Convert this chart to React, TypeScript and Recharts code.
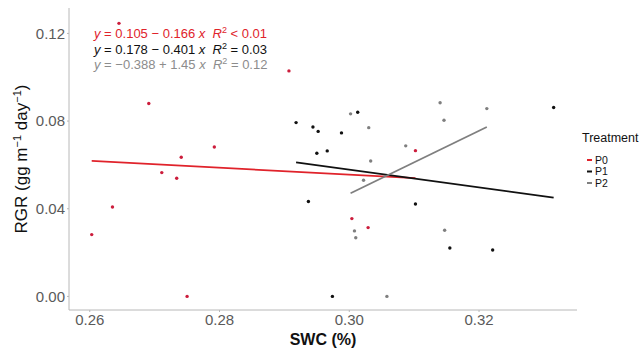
import React from 'react';
import { ComposedChart, XAxis, YAxis, Scatter, Line } from 'recharts';

// SWC (x) and RGR (y) per treatment
const p0SWC = [0.2645, 0.2907, 0.2691, 0.2792, 0.2741, 0.2711, 0.2734, 0.2635, 0.2603, 0.275, 0.3102, 0.3004, 0.3029];
const p0RGR = [0.1246, 0.1029, 0.088, 0.0682, 0.0635, 0.0565, 0.0539, 0.0408, 0.0282, 0.0, 0.0665, 0.0355, 0.0314];

const p1SWC = [0.2918, 0.2937, 0.3013, 0.3315, 0.2944, 0.2952, 0.2988, 0.295, 0.2966, 0.3102, 0.3155, 0.3221, 0.2974];
const p1RGR = [0.0793, 0.0433, 0.084, 0.0862, 0.0773, 0.0753, 0.0746, 0.0653, 0.0664, 0.0422, 0.0221, 0.0212, 0.0];

const p2SWC = [0.3002, 0.314, 0.3212, 0.3146, 0.303, 0.3087, 0.3033, 0.3022, 0.3008, 0.301, 0.3147, 0.3058];
const p2RGR = [0.0833, 0.0884, 0.0857, 0.0804, 0.077, 0.0687, 0.0618, 0.053, 0.0299, 0.0268, 0.0302, 0.0];

// fitted line ends
const p0FitX = [0.2603, 0.3102];
const p0FitY = [0.0618, 0.054];
const p1FitX = [0.2918, 0.3315];
const p1FitY = [0.0612, 0.0451];
const p2FitX = [0.3002, 0.3212];
const p2FitY = [0.0471, 0.0773];

const xTicks = [0.26, 0.28, 0.3, 0.32];
const yTicks = [0, 0.04, 0.08, 0.12];
const treatments = ['P0', 'P1', 'P2'];

const RED = '#e0232b';
const RED_PT = '#cc1d3c';
const BLACK = '#111111';
const GRAY = '#7f7f7f';
const AXIS = '#b8b8b8';
const FONT = '"Liberation Sans", Arial, sans-serif';

const pairs = (xs: number[], ys: number[]) => xs.map((x, i) => ({ x, y: ys[i] }));

const dot = (color: string) => (p: any) => <circle cx={p.cx} cy={p.cy} r={1.7} fill={color} />;

const App: React.FC = () => {
  const legendColors = [RED, BLACK, GRAY];

  return (
    <div style={{ position: 'absolute', left: 0, top: 0, width: 644, height: 351, background: '#fff', fontFamily: FONT }}>
      <ComposedChart width={644} height={351} margin={{ top: 8, right: 67, bottom: 0, left: 0 }}>
        <XAxis
          type="number"
          dataKey="x"
          domain={[0.2568, 0.3351]}
          ticks={xTicks}
          allowDataOverflow
          height={41}
          tickSize={2}
          tickMargin={2}
          tickFormatter={(v: number) => v.toFixed(2)}
          axisLine={{ stroke: AXIS }}
          tickLine={{ stroke: AXIS }}
          tick={{ fill: '#5a5a5a', fontSize: 15, fontFamily: FONT }}
        />
        <YAxis
          type="number"
          domain={[-0.0062, 0.1316]}
          ticks={yTicks}
          allowDataOverflow
          width={69}
          tickSize={2}
          tickMargin={2}
          tickFormatter={(v: number) => v.toFixed(2)}
          axisLine={{ stroke: AXIS }}
          tickLine={{ stroke: AXIS }}
          tick={{ fill: '#5a5a5a', fontSize: 15, fontFamily: FONT }}
        />
        <Scatter data={pairs(p0SWC, p0RGR)} dataKey="y" shape={dot(RED_PT)} isAnimationActive={false} />
        <Scatter data={pairs(p1SWC, p1RGR)} dataKey="y" shape={dot(BLACK)} isAnimationActive={false} />
        <Scatter data={pairs(p2SWC, p2RGR)} dataKey="y" shape={dot(GRAY)} isAnimationActive={false} />
        <Line data={pairs(p0FitX, p0FitY)} dataKey="y" type="linear" stroke={RED} strokeWidth={1.8} dot={false} activeDot={false} isAnimationActive={false} />
        <Line data={pairs(p1FitX, p1FitY)} dataKey="y" type="linear" stroke={BLACK} strokeWidth={1.8} dot={false} activeDot={false} isAnimationActive={false} />
        <Line data={pairs(p2FitX, p2FitY)} dataKey="y" type="linear" stroke={GRAY} strokeWidth={1.8} dot={false} activeDot={false} isAnimationActive={false} />
      </ComposedChart>

      <svg width={644} height={351} style={{ position: 'absolute', left: 0, top: 0, pointerEvents: 'none' }} fontFamily={FONT}>
        {/* equations */}
        <text x={94} y={38} fontSize={13} fill={RED} xmlSpace="preserve">
          <tspan fontStyle="italic">y</tspan> = 0.105 − 0.166 <tspan fontStyle="italic">x</tspan>{'  '}
          <tspan fontStyle="italic">R</tspan><tspan dy={-5} fontSize={9}>2</tspan><tspan dy={5}> &lt; 0.01</tspan>
        </text>
        <text x={94} y={54} fontSize={13} fill={BLACK} xmlSpace="preserve">
          <tspan fontStyle="italic">y</tspan> = 0.178 − 0.401 <tspan fontStyle="italic">x</tspan>{'  '}
          <tspan fontStyle="italic">R</tspan><tspan dy={-5} fontSize={9}>2</tspan><tspan dy={5}> = 0.03</tspan>
        </text>
        <text x={94} y={69} fontSize={13} fill="#8c8c8c" xmlSpace="preserve">
          <tspan fontStyle="italic">y</tspan> = −0.388 + 1.45 <tspan fontStyle="italic">x</tspan>{'  '}
          <tspan fontStyle="italic">R</tspan><tspan dy={-5} fontSize={9}>2</tspan><tspan dy={5}> = 0.12</tspan>
        </text>

        {/* axis titles */}
        <text x={323} y={345} textAnchor="middle" fontSize={16} fontWeight="bold" fill="#111">SWC (%)</text>
        <text transform="translate(27,159) rotate(-90)" textAnchor="middle" fontSize={17} fill="#111">
          RGR (gg m<tspan dy={-6} fontSize={11}>−1</tspan><tspan dy={6}> day</tspan><tspan dy={-6} fontSize={11}>−1</tspan><tspan dy={6}>)</tspan>
        </text>

        {/* legend */}
        <text x={582} y={142} fontSize={12.5} fill="#111">Treatment</text>
        {treatments.map((t, i) => (
          <g key={t}>
            <line x1={587} x2={592} y1={160 + i * 11.5} y2={160 + i * 11.5} stroke={legendColors[i]} strokeWidth={2} />
            <text x={595} y={163.8 + i * 11.5} fontSize={10.5} fill="#111">{t}</text>
          </g>
        ))}
      </svg>
    </div>
  );
};

export default App;
